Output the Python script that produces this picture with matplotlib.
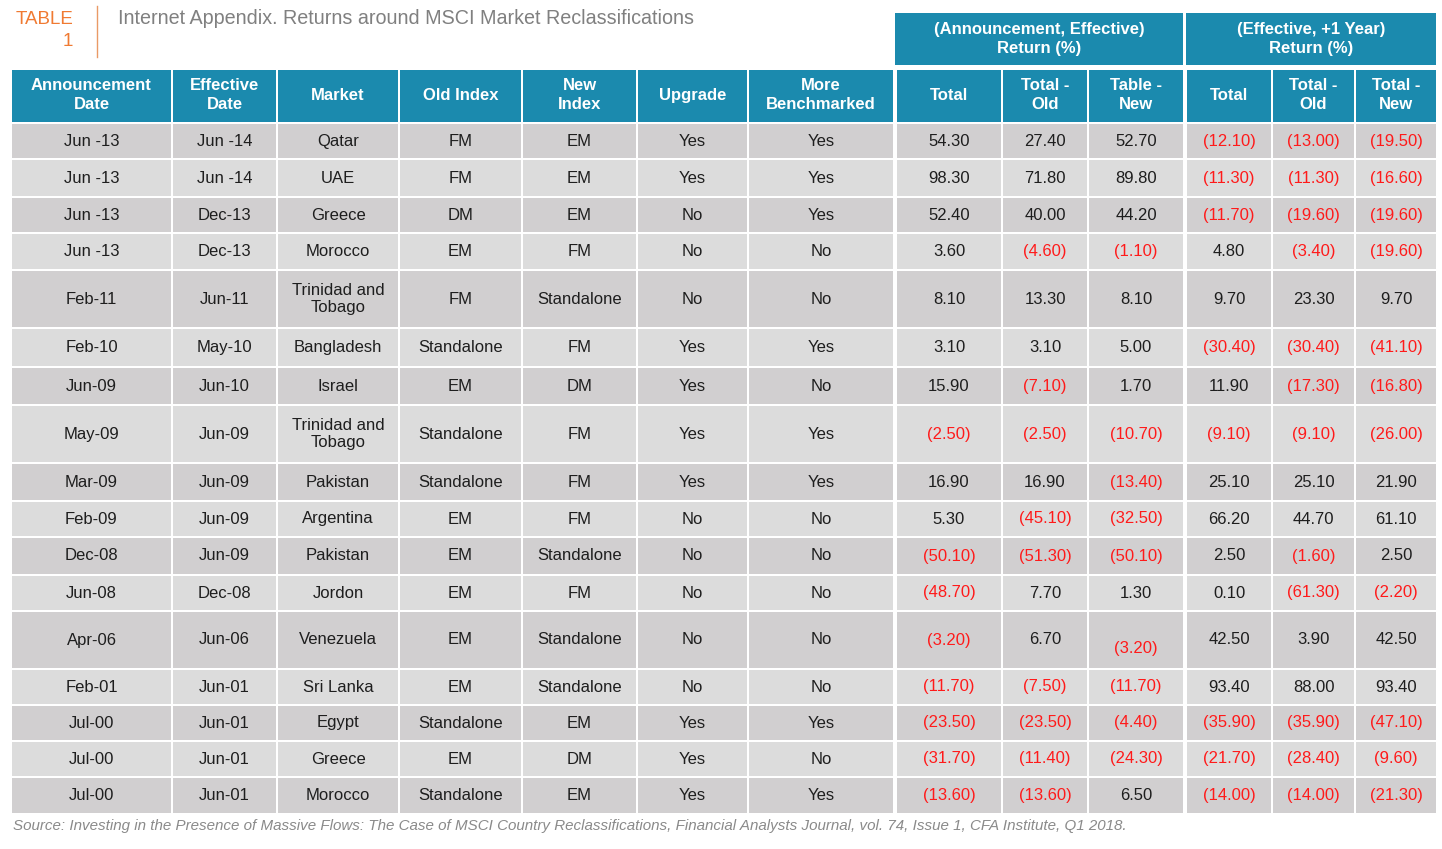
import matplotlib
matplotlib.use("Agg")
import matplotlib.pyplot as plt
from matplotlib.patches import Rectangle

FONT = 'Liberation Sans'

announce = ["Jun -13", "Jun -13", "Jun -13", "Jun -13", "Feb-11", "Feb-10", "Jun-09",
            "May-09", "Mar-09", "Feb-09", "Dec-08", "Jun-08", "Apr-06", "Feb-01",
            "Jul-00", "Jul-00", "Jul-00"]
effective = ["Jun -14", "Jun -14", "Dec-13", "Dec-13", "Jun-11", "May-10", "Jun-10",
             "Jun-09", "Jun-09", "Jun-09", "Jun-09", "Dec-08", "Jun-06", "Jun-01",
             "Jun-01", "Jun-01", "Jun-01"]
market = ["Qatar", "UAE", "Greece", "Morocco", "Trinidad and\nTobago", "Bangladesh",
          "Israel", "Trinidad and\nTobago", "Pakistan", "Argentina", "Pakistan",
          "Jordon", "Venezuela", "Sri Lanka", "Egypt", "Greece", "Morocco"]
old_index = ["FM", "FM", "DM", "EM", "FM", "Standalone", "EM", "Standalone",
             "Standalone", "EM", "EM", "EM", "EM", "EM", "Standalone", "EM", "Standalone"]
new_index = ["EM", "EM", "EM", "FM", "Standalone", "FM", "DM", "FM", "FM", "FM",
             "Standalone", "FM", "Standalone", "Standalone", "EM", "DM", "EM"]
upgrade = ["Yes", "Yes", "No", "No", "No", "Yes", "Yes", "Yes", "Yes", "No", "No",
           "No", "No", "No", "Yes", "Yes", "Yes"]
more_bench = ["Yes", "Yes", "Yes", "No", "No", "Yes", "No", "Yes", "Yes", "No", "No",
              "No", "No", "No", "Yes", "No", "Yes"]

ae_total = [54.30, 98.30, 52.40, 3.60, 8.10, 3.10, 15.90, -2.50, 16.90, 5.30, -50.10,
            -48.70, -3.20, -11.70, -23.50, -31.70, -13.60]
ae_old = [27.40, 71.80, 40.00, -4.60, 13.30, 3.10, -7.10, -2.50, 16.90, -45.10, -51.30,
          7.70, 6.70, -7.50, -23.50, -11.40, -13.60]
ae_new = [52.70, 89.80, 44.20, -1.10, 8.10, 5.00, 1.70, -10.70, -13.40, -32.50, -50.10,
          1.30, -3.20, -11.70, -4.40, -24.30, 6.50]
ey_total = [-12.10, -11.30, -11.70, 4.80, 9.70, -30.40, 11.90, -9.10, 25.10, 66.20,
            2.50, 0.10, 42.50, 93.40, -35.90, -21.70, -14.00]
ey_old = [-13.00, -11.30, -19.60, -3.40, 23.30, -30.40, -17.30, -9.10, 25.10, 44.70,
          -1.60, -61.30, 3.90, 88.00, -35.90, -28.40, -14.00]
ey_new = [-19.50, -16.60, -19.60, -19.60, 9.70, -41.10, -16.80, -26.00, 21.90, 61.10,
          2.50, -2.20, 42.50, 93.40, -47.10, -9.60, -21.30]

col_headers = ["Announcement\nDate", "Effective\nDate", "Market", "Old Index", "New\nIndex",
               "Upgrade", "More\nBenchmarked", "Total", "Total -\nOld", "Table -\nNew",
               "Total", "Total -\nOld", "Total -\nNew"]
group_headers = ["(Announcement, Effective)\nReturn (%)", "(Effective, +1 Year)\nReturn (%)"]

# layout (pixels)
col_edges = [(12, 171), (173, 276), (278, 398), (400, 521), (523, 636), (638, 747),
             (749, 893), (897, 1001), (1003, 1087), (1089, 1183), (1187, 1271),
             (1273, 1354), (1356, 1436)]
row_h = [34, 36, 34, 35, 56, 37, 36, 56, 36, 34, 36, 34, 56, 34, 34, 34, 35]
HEAD = '#1b8aae'
DARK = '#d1cfd0'
LIGHT = '#dcdcdc'
RED = '#ff1a1a'
TXT = '#1e1e1e'

fig = plt.figure(figsize=(14.42, 8.49), dpi=100, facecolor='white')
ax = fig.add_axes([0, 0, 1, 1])
ax.set_xlim(0, 1442)
ax.set_ylim(849, 0)
ax.axis('off')

# title block
ax.text(73, 19, "TABLE", ha='right', va='center', color='#f07a32', fontsize=13.5,
        family=FONT)
ax.text(73, 41, "1", ha='right', va='center', color='#f07a32', fontsize=13.5,
        family=FONT)
ax.plot([97, 97], [6, 57], color='#ea9a66', lw=1)
ax.text(118, 18, "Internet Appendix. Returns around MSCI Market Reclassifications",
        ha='left', va='center', color='#808080', fontsize=14.2, family=FONT)

# group headers
for i, (a, b) in enumerate([(895, 1183), (1186, 1436)]):
    ax.add_patch(Rectangle((a, 13), b - a, 52, facecolor=HEAD, edgecolor='none'))
    ax.text((a + b) / 2, 39, group_headers[i], ha='center', va='center', color='white',
            fontsize=12, fontweight='bold', family=FONT, linespacing=1.3)

# column headers
for (a, b), lab in zip(col_edges, col_headers):
    ax.add_patch(Rectangle((a, 70), b - a, 52, facecolor=HEAD, edgecolor='none'))
    ax.text((a + b) / 2, 95, lab, ha='center', va='center', color='white',
            fontsize=12, fontweight='bold', family=FONT, linespacing=1.3)


def fmt(v):
    if v < 0:
        return "(%.2f)" % -v, RED
    return "%.2f" % v, TXT


text_cols = [announce, effective, market, old_index, new_index, upgrade, more_bench]
num_cols = [ae_total, ae_old, ae_new, ey_total, ey_old, ey_new]

y = 124
for r in range(len(market)):
    h = row_h[r]
    fc = DARK if r % 2 == 0 else LIGHT
    for c, (a, b) in enumerate(col_edges):
        ax.add_patch(Rectangle((a, y), b - a, h, facecolor=fc, edgecolor='none'))
    yc = y + h / 2
    for c in range(7):
        a, b = col_edges[c]
        ax.text((a + b) / 2, yc, text_cols[c][r], ha='center', va='center', color=TXT,
                fontsize=12, family=FONT, linespacing=1.2)
    for k in range(6):
        a, b = col_edges[7 + k]
        s, colr = fmt(num_cols[k][r])
        dy = 9 if (market[r] == "Venezuela" and k == 2) else 0
        ax.text((a + b) / 2, yc + dy, s, ha='center', va='center', color=colr,
                fontsize=12, family=FONT)
    y += h + 2

ax.text(13, 826, "Source: Investing in the Presence of Massive Flows: The Case of MSCI "
        "Country Reclassifications, Financial Analysts Journal, vol. 74, Issue 1, "
        "CFA Institute, Q1 2018.", ha='left', va='center', color='#8a8a8a',
        fontsize=10.9, style='italic', family=FONT)

fig.savefig("out.png", dpi=100, facecolor='white')
